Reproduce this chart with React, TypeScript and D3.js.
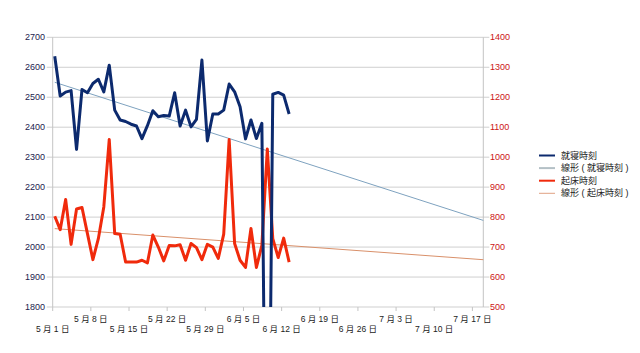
import React, { useEffect, useRef } from "react";
import * as d3 from "d3";

// daily records, 5/1 .. 6/13
const startDay = "2011-05-01";
const endDay = "2011-07-19";
const bedTimes = [
    2637, 2504, 2517, 2522, 2326, 2526, 2515, 2546, 2560, 2518,
    2607, 2457, 2424, 2419, 2410, 2404, 2362, 2405, 2455, 2435,
    2439, 2437, 2515, 2404, 2457, 2401, 2426, 2624, 2354, 2444,
    2444, 2457, 2544, 2518, 2468, 2361, 2424, 2362, 2413, 630,
    2510, 2516, 2507, 2444,
];
const wakeTimes = [
    803, 758, 859, 709, 827, 832, 745, 658, 728, 834,
    1059, 745, 743, 650, 650, 650, 656, 647, 740, 700,
    654, 705, 704, 708, 656, 712, 698, 658, 709, 700,
    662, 743, 1059, 712, 656, 632, 762, 632, 706, 1027,
    728, 665, 730, 650,
];
const leftTicks = [1800, 1900, 2000, 2100, 2200, 2300, 2400, 2500, 2600, 2700];
const rightTicks = [500, 600, 700, 800, 900, 1000, 1100, 1200, 1300, 1400];
const legendNames = ["就寝時刻", "線形 ( 就寝時刻 )", "起床時刻", "線形 ( 起床時刻 )"];

const W = 640, H = 353;
const left = 52.7, right = 483.3, top = 37.3, bottom = 307;
const FONT = "'Liberation Sans', 'Noto Sans CJK JP', sans-serif";
const navy = "#0c2a6e";
const red = "#f02a0c";
const blueTrend = "#7ea2bf";
const orangeTrend = "#d9906a";

// least squares fit over day index
const fit = (vals: number[]) => {
    const n = vals.length;
    const mx = (n - 1) / 2;
    const my = d3.mean(vals) as number;
    let sxy = 0, sxx = 0;
    vals.forEach((v, i) => { sxy += (i - mx) * (v - my); sxx += (i - mx) * (i - mx) });
    const b = sxy / sxx;
    return (i: number) => my + b * (i - mx);
}

export default function App() {
    const ref = useRef<SVGSVGElement>(null);
    useEffect(() => {
        const svg = d3.select(ref.current);
        svg.selectAll("*").remove();
        const t0 = d3.timeParse("%Y-%m-%d")(startDay) as Date;
        const t1 = d3.timeParse("%Y-%m-%d")(endDay) as Date;
        // records are stamped in the morning of each day
        const days = d3.timeDay.range(t0, d3.timeDay.offset(t0, bedTimes.length))
            .map(d => d3.timeHour.offset(d, 9));
        const x = d3.scaleTime().domain([t0, t1]).range([left, right]);
        const yL = d3.scaleLinear().domain([1800, 2700]).range([bottom, top]);
        const yR = d3.scaleLinear().domain([500, 1400]).range([bottom, top]);

        svg.append("clipPath").attr("id", "plot")
            .append("rect").attr("x", left).attr("y", top - 5)
            .attr("width", right - left).attr("height", bottom - top + 5);

        // grid
        svg.append("g").selectAll("line").data(leftTicks).join("line")
            .attr("x1", left - 6).attr("x2", right + 6)
            .attr("y1", d => yL(d)).attr("y2", d => yL(d))
            .attr("stroke", "#cfcfcf").attr("stroke-width", 1);
        svg.append("line").attr("x1", left).attr("x2", left).attr("y1", top).attr("y2", bottom)
            .attr("stroke", "#c4c4c4");
        svg.append("line").attr("x1", right).attr("x2", right).attr("y1", top).attr("y2", bottom)
            .attr("stroke", "#c4c4c4");

        // x ticks, weekly
        const weekTicks = d3.timeWeek.every(1)!.range(t0, d3.timeDay.offset(t1, 1));
        const gx = svg.append("g");
        gx.selectAll("line").data(weekTicks).join("line")
            .attr("x1", d => x(d)).attr("x2", d => x(d))
            .attr("y1", bottom).attr("y2", bottom + 4)
            .attr("stroke", "#c4c4c4");
        gx.selectAll("text").data(weekTicks).join("text")
            .attr("x", d => x(d))
            .attr("y", (d, i) => i % 2 ? 322 : 332)
            .attr("text-anchor", "middle")
            .attr("font-family", FONT).attr("font-size", 8.5).attr("fill", "#222")
            .text(d => `${d.getMonth() + 1} 月 ${d.getDate()} 日`);

        // y labels
        svg.append("g").selectAll("text").data(leftTicks).join("text")
            .attr("x", 45).attr("y", d => yL(d)).attr("dy", "0.35em")
            .attr("text-anchor", "end")
            .attr("font-family", FONT).attr("font-size", 9).attr("fill", "#22224e")
            .text(d => d);
        svg.append("g").selectAll("text").data(rightTicks).join("text")
            .attr("x", 490).attr("y", d => yR(d)).attr("dy", "0.35em")
            .attr("font-family", FONT).attr("font-size", 9).attr("fill", "#cc1414")
            .text(d => d);

        const plot = svg.append("g").attr("clip-path", "url(#plot)");
        const lineL = d3.line<number>().x((d, i) => x(days[i])).y(d => yL(d));
        const lineR = d3.line<number>().x((d, i) => x(days[i])).y(d => yR(d));

        // trend lines, projected to the end of the axis
        const lastIdx = d3.timeDay.count(days[0], t1);
        const fb = fit(bedTimes), fw = fit(wakeTimes);
        const xi = (i: number) => x(d3.timeDay.offset(days[0], i));
        plot.append("line")
            .attr("x1", xi(0)).attr("y1", yL(fb(0))).attr("x2", xi(lastIdx)).attr("y2", yL(fb(lastIdx)))
            .attr("stroke", blueTrend).attr("stroke-width", 1);
        plot.append("line")
            .attr("x1", xi(0)).attr("y1", yR(fw(0))).attr("x2", xi(lastIdx)).attr("y2", yR(fw(lastIdx)))
            .attr("stroke", orangeTrend).attr("stroke-width", 1);

        plot.append("path").attr("d", lineR(wakeTimes))
            .attr("fill", "none").attr("stroke", red).attr("stroke-width", 3)
            .attr("stroke-linejoin", "round");
        plot.append("path").attr("d", lineL(bedTimes))
            .attr("fill", "none").attr("stroke", navy).attr("stroke-width", 3)
            .attr("stroke-linejoin", "round");

        // legend
        const legColors = [navy, "#b4c0c6", red, "#e0a282"];
        const legWidths = [2, 2, 2, 1];
        const lg = svg.append("g").selectAll("g").data(legendNames).join("g")
            .attr("transform", (d, i) => `translate(539,${155.5 + i * 12.6})`);
        lg.append("line").attr("x1", 0).attr("x2", 16)
            .attr("stroke", (d, i) => legColors[i]).attr("stroke-width", (d, i) => legWidths[i]);
        lg.append("text").attr("x", 22).attr("dy", "0.35em")
            .attr("font-family", FONT).attr("font-size", 9).attr("fill", "#222")
            .text(d => d);
    }, []);
    return (
        <svg ref={ref} width={W} height={H} viewBox={`0 0 ${W} ${H}`}
            style={{ position: "absolute", left: 0, top: 0, background: "#fff" }}></svg>
    );
}
